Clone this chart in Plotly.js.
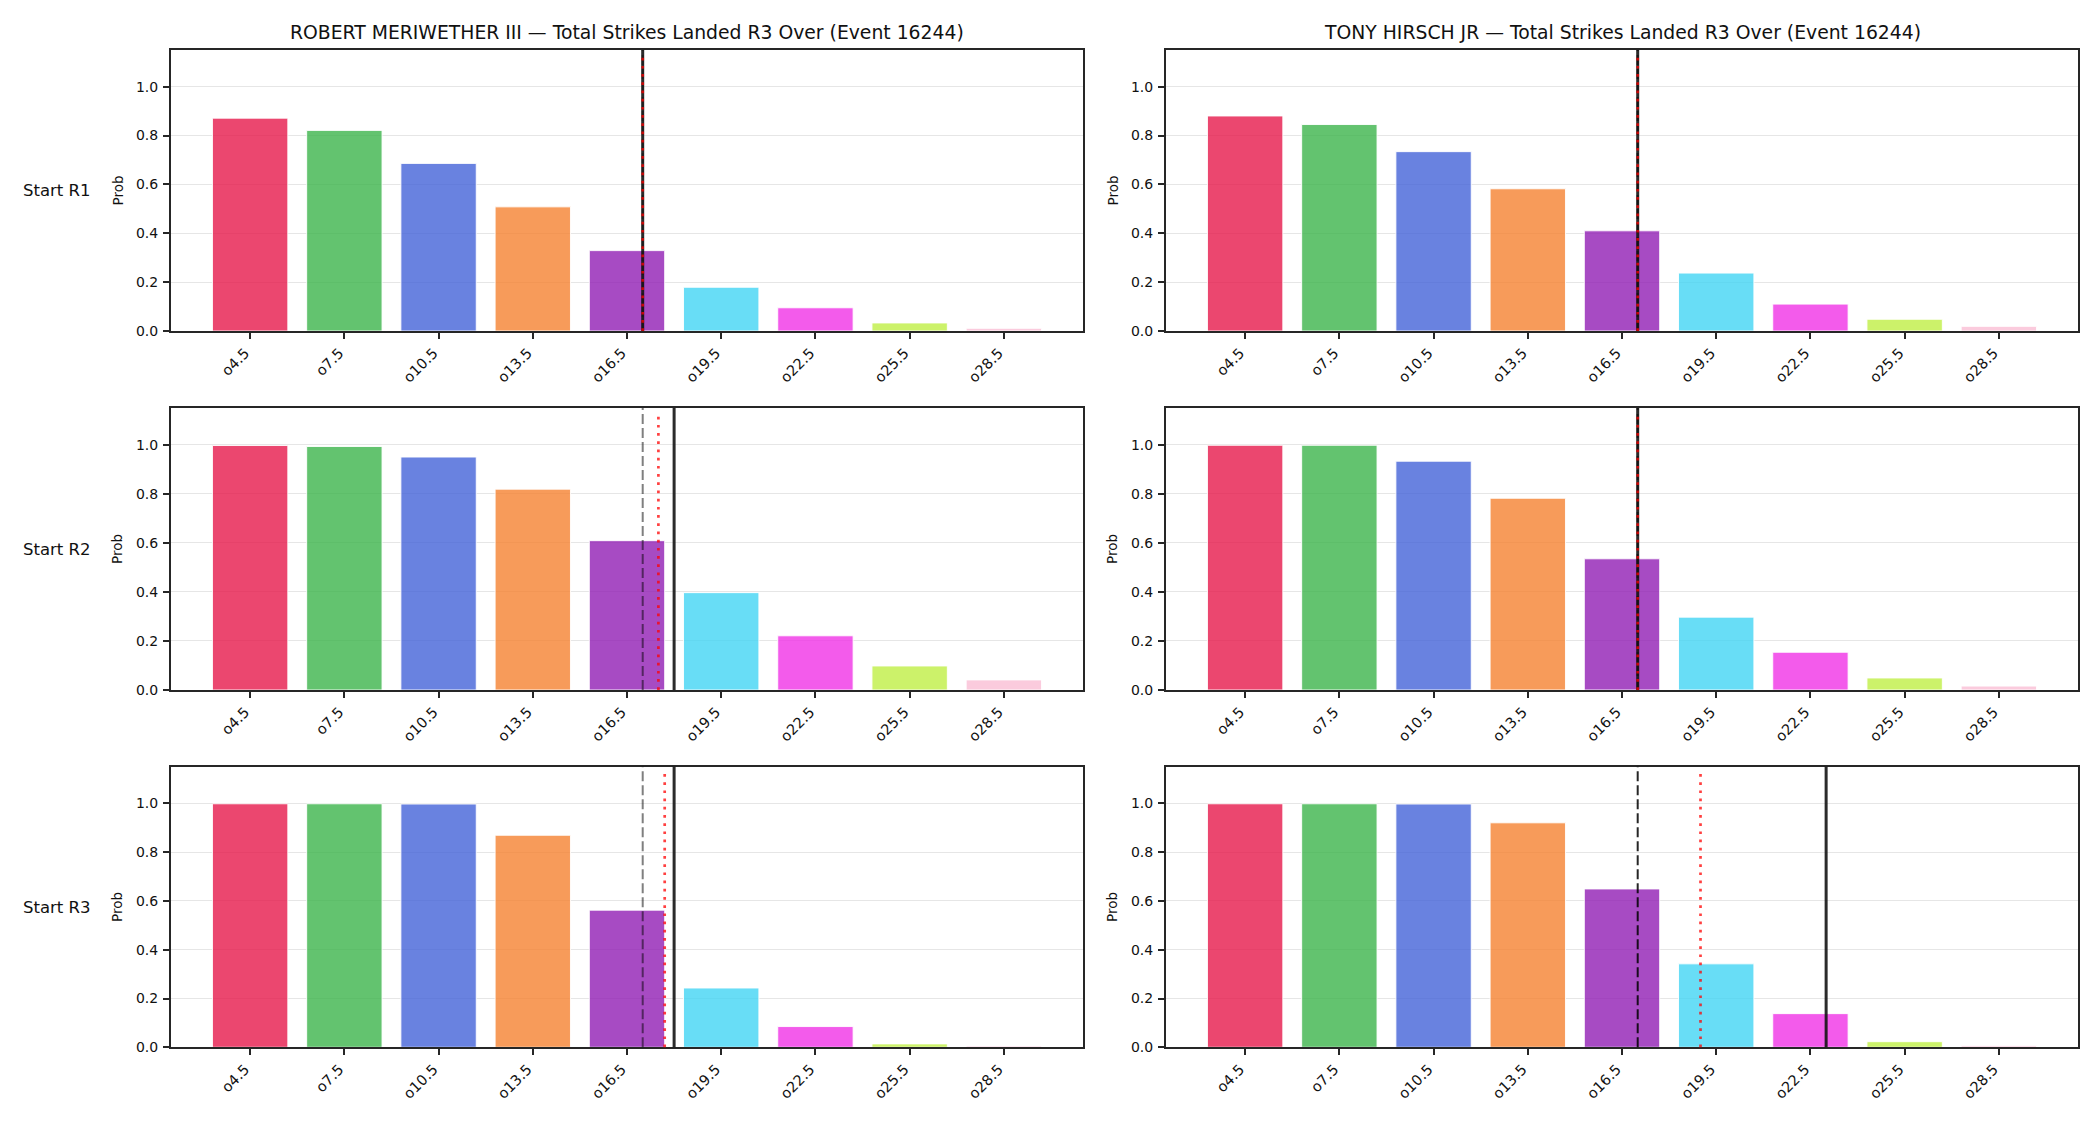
<!DOCTYPE html>
<html>
<head>
<meta charset="utf-8">
<script src="https://cdn.plot.ly/plotly-3.0.1.min.js"></script>
<style>
  html, body { margin: 0; padding: 0; background: #ffffff; }
  #chart { width: 2100px; height: 1125px; }
</style>
</head>
<body>
<div id="chart"></div>
<script>
// Over-lines for total strikes landed in round 3
const thresholds = [4.5, 7.5, 10.5, 13.5, 16.5, 19.5, 22.5, 25.5, 28.5];
const tickLabels = thresholds.map(t => 'o' + t);

const fighters = ['ROBERT MERIWETHER III', 'TONY HIRSCH JR'];
const rowLabels = ['Start R1', 'Start R2', 'Start R3'];
const eventId = 16244;

// P(over) at each line, one array per fighter and starting round
const meriwetherR1 = [0.871, 0.821, 0.686, 0.508, 0.329, 0.179, 0.095, 0.033, 0.011];
const meriwetherR2 = [0.997, 0.993, 0.950, 0.819, 0.609, 0.397, 0.221, 0.098, 0.041];
const meriwetherR3 = [0.998, 0.998, 0.997, 0.869, 0.562, 0.243, 0.085, 0.014, 0.005];
const hirschR1 = [0.880, 0.845, 0.734, 0.582, 0.410, 0.237, 0.110, 0.048, 0.019];
const hirschR2 = [0.998, 0.998, 0.933, 0.782, 0.535, 0.297, 0.154, 0.049, 0.016];
const hirschR3 = [0.998, 0.998, 0.997, 0.920, 0.649, 0.342, 0.138, 0.023, 0.006];

// Reference markers in strikes: book line (dashed), model mean (dotted), running total (solid)
const meriwetherBookLine = [17, 17, 17];
const meriwetherMean = [17, 17.5, 17.7];
const meriwetherCurrent = [17, 18, 18];
const hirschBookLine = [17, 17, 17];
const hirschMean = [17, 17, 19];
const hirschCurrent = [17, 17, 23];

const barColors = ['#e6194b', '#3cb44b', '#4363d8', '#f58231', '#911eb4',
                   '#42d4f4', '#f032e6', '#bfef45', '#fabed4'];

function withAlpha(hex, a) {
  const r = parseInt(hex.slice(1, 3), 16), g = parseInt(hex.slice(3, 5), 16), b = parseInt(hex.slice(5, 7), 16);
  return `rgba(${r},${g},${b},${a})`;
}

// Strike count -> fractional category position along the threshold axis
function strikePos(v) {
  const step = thresholds[1] - thresholds[0];
  return (v - thresholds[0]) / step;
}

const W = 2100, H = 1125;
const colPx = [[171, 1083], [1166, 2078]];
const rowPx = [[50, 331], [408, 690], [766.7, 1047.3]];

const panels = [
  [meriwetherR1, meriwetherR2, meriwetherR3],
  [hirschR1, hirschR2, hirschR3]
];
const bookLines = [meriwetherBookLine, hirschBookLine];
const means = [meriwetherMean, hirschMean];
const currents = [meriwetherCurrent, hirschCurrent];
const bookLineColors = ['rgba(0,0,0,0.5)', 'rgba(0,0,0,0.85)'];

const FONT = 'DejaVu Sans, Liberation Sans, sans-serif';
const traces = [];
const layout = {
  width: W, height: H, autosize: false,
  margin: { l: 0, r: 0, t: 0, b: 0 },
  paper_bgcolor: '#ffffff', plot_bgcolor: '#ffffff',
  showlegend: false,
  font: { family: FONT, color: '#111111', size: 14 },
  shapes: [], annotations: []
};

let n = 0;
for (let r = 0; r < 3; r++) {
  for (let c = 0; c < 2; c++) {
    n += 1;
    const xa = n === 1 ? 'xaxis' : 'xaxis' + n;
    const ya = n === 1 ? 'yaxis' : 'yaxis' + n;
    const xr = n === 1 ? 'x' : 'x' + n;
    const yr = n === 1 ? 'y' : 'y' + n;

    traces.push({
      type: 'bar',
      x: tickLabels,
      y: panels[c][r],
      xaxis: xr, yaxis: yr,
      width: 0.8,
      marker: {
        color: barColors.map(h => withAlpha(h, 0.8)),
        line: { color: 'rgba(255,255,255,0.9)', width: 1 }
      },
      hoverinfo: 'x+y'
    });

    const dom = [colPx[c][0] / W, colPx[c][1] / W];
    const ydom = [1 - rowPx[r][1] / H, 1 - rowPx[r][0] / H];
    layout[xa] = {
      domain: dom, anchor: yr, type: 'category',
      range: [-0.84, 8.84],
      showline: true, mirror: true, linecolor: '#262626', linewidth: 2,
      ticks: 'outside', ticklen: 6, tickwidth: 2, tickcolor: '#262626',
      tickangle: -45, tickfont: { family: FONT, size: 14.5, color: '#111' },
      ticklabelshift: -5,
      showgrid: false, zeroline: false, fixedrange: true
    };
    layout[ya] = {
      domain: ydom, anchor: xr,
      range: [0, 1.15],
      tickvals: [0, 0.2, 0.4, 0.6, 0.8, 1.0],
      tickformat: '.1f',
      showline: true, mirror: true, linecolor: '#262626', linewidth: 2,
      ticks: 'outside', ticklen: 6, tickwidth: 2, tickcolor: '#262626',
      tickfont: { family: FONT, size: 14, color: '#111' },
      ticklabelstandoff: 2,
      showgrid: true, gridcolor: '#e6e6e6', gridwidth: 1,
      zeroline: false, fixedrange: true
    };

    // reference lines
    layout.shapes.push({
      type: 'line', xref: xr, yref: yr + ' domain',
      x0: strikePos(bookLines[c][r]), x1: strikePos(bookLines[c][r]), y0: 0, y1: 1,
      line: { color: bookLineColors[c], width: 2, dash: '10px,4px' }, layer: 'above'
    });
    layout.shapes.push({
      type: 'line', xref: xr, yref: yr + ' domain',
      x0: strikePos(currents[c][r]), x1: strikePos(currents[c][r]), y0: 0, y1: 1,
      line: { color: 'rgba(20,20,20,0.9)', width: 3 }, layer: 'above'
    });
    layout.shapes.push({
      type: 'line', xref: xr, yref: yr + ' domain',
      x0: strikePos(means[c][r]), x1: strikePos(means[c][r]), y0: 0, y1: 0.975,
      line: { color: 'rgba(255,0,0,0.75)', width: 2.7, dash: '2.7px,5.5px' }, layer: 'above'
    });

    // y-axis label
    const probX = c === 0 ? 117 : 1112;
    layout.annotations.push({
      text: 'Prob', xref: 'paper', yref: 'paper',
      x: probX / W, y: (ydom[0] + ydom[1]) / 2,
      xanchor: 'center', yanchor: 'middle', textangle: -90, showarrow: false,
      font: { family: FONT, size: 13.5, color: '#111' }
    });
  }

  // row label
  layout.annotations.push({
    text: rowLabels[r], xref: 'paper', yref: 'paper',
    x: 57 / W, y: 1 - (rowPx[r][0] + rowPx[r][1]) / 2 / H,
    xanchor: 'center', yanchor: 'middle', showarrow: false,
    font: { family: FONT, size: 16.5, color: '#111' }
  });
}

// column titles
for (let c = 0; c < 2; c++) {
  layout.annotations.push({
    text: `${fighters[c]} — Total Strikes Landed R3 Over (Event ${eventId})`,
    xref: 'paper', yref: 'paper',
    x: (colPx[c][0] + colPx[c][1]) / 2 / W, y: 1 - 32 / H,
    xanchor: 'center', yanchor: 'middle', showarrow: false,
    font: { family: FONT, size: 18.8, color: '#111' }
  });
}

Plotly.newPlot('chart', traces, layout, { staticPlot: true, displayModeBar: false });
</script>
</body>
</html>
